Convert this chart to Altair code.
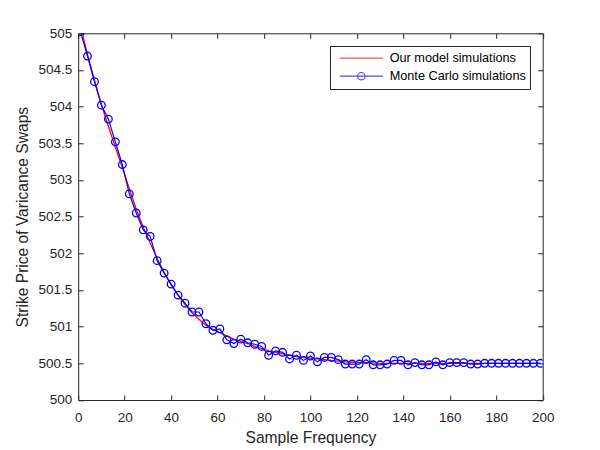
import altair as alt
import pandas as pd

# Sample frequencies (x) shared by both series
freq = [1, 4, 7, 10, 13, 16, 19, 22, 25, 28, 31, 34, 37, 40, 43, 46, 49, 52, 55, 58,
        61, 64, 67, 70, 73, 76, 79, 82, 85, 88, 91, 94, 97, 100, 103, 106, 109, 112,
        115, 118, 121, 124, 127, 130, 133, 136, 139, 142, 145, 148, 151, 154, 157,
        160, 163, 166, 169, 172, 175, 178, 181, 184, 187, 190, 193, 196, 199]

# Our model simulations (red curve)
model = [505.10, 504.71, 504.36, 504.03, 503.73, 503.45, 503.17, 502.88, 502.60, 502.36,
         502.14, 501.93, 501.74, 501.57, 501.43, 501.30, 501.19, 501.10, 501.02, 500.96,
         500.92, 500.87, 500.83, 500.80, 500.77, 500.73, 500.70, 500.67, 500.65, 500.63,
         500.61, 500.59, 500.58, 500.57, 500.56, 500.55, 500.54, 500.53, 500.52, 500.515,
         500.51, 500.51, 500.505, 500.50, 500.50, 500.50, 500.50, 500.50, 500.50, 500.50,
         500.50, 500.50, 500.50, 500.50, 500.50, 500.50, 500.50, 500.50, 500.50, 500.50,
         500.50, 500.50, 500.50, 500.50, 500.50, 500.50, 500.50]

# Monte Carlo simulations (blue circles)
mc = [505.02, 504.69, 504.34, 504.02, 503.83, 503.52, 503.21, 502.81, 502.55, 502.32,
      502.23, 501.90, 501.73, 501.58, 501.43, 501.32, 501.20, 501.20, 501.04, 500.95,
      500.97, 500.82, 500.77, 500.83, 500.78, 500.76, 500.73, 500.61, 500.67, 500.65,
      500.56, 500.61, 500.54, 500.60, 500.52, 500.58, 500.58, 500.55, 500.49, 500.49,
      500.49, 500.55, 500.48, 500.48, 500.49, 500.54, 500.54, 500.48, 500.51, 500.48,
      500.48, 500.52, 500.48, 500.51, 500.51, 500.51, 500.49, 500.49, 500.50, 500.50,
      500.50, 500.50, 500.50, 500.50, 500.50, 500.50, 500.50]

series_names = ["Our model simulations", "Monte Carlo simulations"]
x_ticks = [0, 20, 40, 60, 80, 100, 120, 140, 160, 180, 200]
y_ticks = [500, 500.5, 501, 501.5, 502, 502.5, 503, 503.5, 504, 504.5, 505]

df_model = pd.DataFrame({"x": freq, "y": model, "series": series_names[0]})
df_mc = pd.DataFrame({"x": freq, "y": mc, "series": series_names[1]})
df_all = pd.concat([df_model, df_mc], ignore_index=True)

AX = "#262626"
FONT = "Liberation Sans"

xs = alt.Scale(domain=[0, 200], nice=False, zero=False)
ys = alt.Scale(domain=[500, 505], nice=False, zero=False)

common_axis = dict(
    domain=False, grid=False, ticks=True, tickSize=5, tickWidth=1, tickColor=AX,
    offset=-5, labelFont=FONT, labelFontSize=13.5, labelColor=AX,
    labelFlush=False, labelOverlap=False,
    titleFont=FONT, titleFontSize=15.6, titleFontWeight="normal", titleColor=AX,
)

x_bottom = alt.Axis(orient="bottom", values=x_ticks, format="d", labelPadding=11,
                    title="Sample Frequency", titleBaseline="alphabetic", titleY=47.7,
                    **common_axis)
y_left = alt.Axis(orient="left", values=y_ticks, format="~g", labelPadding=6.5,
                  title="Strike Price of Varicance Swaps", titleBaseline="alphabetic",
                  titleAngle=-90, titleX=-55.9, **common_axis)
x_top = alt.Axis(orient="top", values=x_ticks, labels=False, title=None, **common_axis)
y_right = alt.Axis(orient="right", values=y_ticks, labels=False, title=None, **common_axis)

red_line = alt.Chart(df_model).mark_line(color="#ff0000", strokeWidth=1.3, clip=True).encode(
    x=alt.X("x:Q", scale=xs, axis=x_bottom),
    y=alt.Y("y:Q", scale=ys, axis=y_left),
)
blue_line = alt.Chart(df_mc).mark_line(color="#0000ff", strokeWidth=1.2, clip=True).encode(
    x=alt.X("x:Q", scale=xs, axis=None),
    y=alt.Y("y:Q", scale=ys, axis=None),
)
blue_pts = alt.Chart(df_mc).mark_point(shape="circle", filled=False, color="#0000ff",
                                        size=58, strokeWidth=1.3, opacity=1,
                                        clip=True).encode(
    x=alt.X("x:Q", scale=xs, axis=None),
    y=alt.Y("y:Q", scale=ys, axis=None),
)

line_path = "M0,0L10.75,0"
line_circle_path = ("M0,0L10.75,0M4.445,0A0.93,0.93 0 1,0 6.305,0"
                    "A0.93,0.93 0 1,0 4.445,0")

legend_props = dict(
    title=None, orient="none", legendX=251.8, legendY=12.7,
    strokeColor=AX, fillColor="white", padding=3.5,
    symbolSize=64, symbolStrokeWidth=1.2, labelOffset=43.5,
    labelFont=FONT, labelFontSize=12.7, labelColor="#000000",
    clipHeight=17.4, rowPadding=0,
)

legend_layer = alt.Chart(df_all).transform_filter("false").mark_point(
    filled=False, strokeWidth=1.2).encode(
    x=alt.X("x:Q", scale=xs, axis=x_top),
    y=alt.Y("y:Q", scale=ys, axis=y_right),
    color=alt.Color("series:N",
                    scale=alt.Scale(domain=series_names, range=["#ff0000", "#0000ff"]),
                    legend=alt.Legend(**legend_props)),
    shape=alt.Shape("series:N",
                    scale=alt.Scale(domain=series_names, range=[line_path, line_circle_path]),
                    legend=alt.Legend(**legend_props)),
)

chart = alt.layer(red_line, blue_line, blue_pts, legend_layer).resolve_axis(
    x="independent", y="independent"
).properties(
    width=464.5, height=366.7,
    autosize=alt.AutoSizeParams(type="none"),
    padding={"left": 70.2, "top": 25.3, "right": 40, "bottom": 46},
    background="white",
).configure_view(stroke=AX, strokeWidth=1)

chart.save("out.html", embed_options={"renderer": "svg", "actions": False})
